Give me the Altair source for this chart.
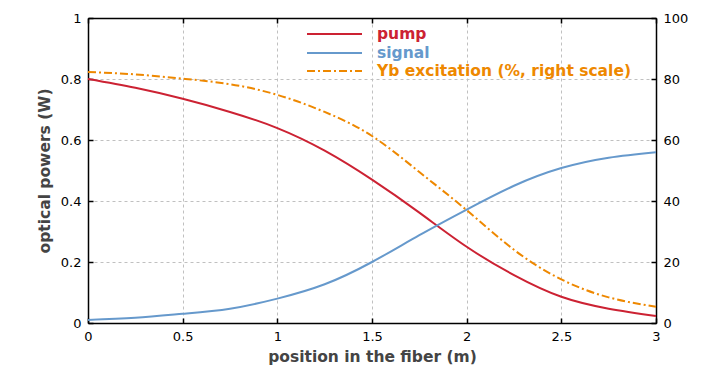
import altair as alt
import pandas as pd

# ---- data ----
position = [0, 0.25, 0.5, 0.75, 1.0, 1.25, 1.5, 1.75, 2.0, 2.25, 2.5, 2.75, 3.0]
pump = [0.800, 0.771, 0.735, 0.692, 0.639, 0.565, 0.470, 0.362, 0.250, 0.157, 0.086, 0.047, 0.023]
signal = [0.010, 0.017, 0.030, 0.047, 0.080, 0.127, 0.200, 0.288, 0.372, 0.450, 0.508, 0.542, 0.560]
yb_excitation = [82.3, 81.5, 80.1, 78.3, 74.8, 69.2, 61.3, 49.5, 37.0, 24.0, 14.3, 8.4, 5.3]

x_ticks = [0, 0.5, 1, 1.5, 2, 2.5, 3]
left_ticks = [0, 0.2, 0.4, 0.6, 0.8, 1.0]
right_ticks = [0, 20, 40, 60, 80, 100]

series_names = ["pump", "signal"]
legend_labels = ["pump", "signal", "Yb excitation (%, right scale)"]
legend_colors = ["#cc2233", "#6699cc", "#ee8800"]

# ---- tables ----
powers = pd.DataFrame(
    {"position": position * 2,
     "power": pump + signal,
     "series": ["pump"] * len(position) + ["signal"] * len(position)}
)
yb = pd.DataFrame({"position": position, "yb": yb_excitation})

W, H = 568, 305
TICK = {"expr": "-5"}
label_font = "DejaVu Sans"
title_font = "DejaVu Sans"

left_layer = alt.Chart(powers).mark_line(strokeWidth=2, interpolate="natural").encode(
    x=alt.X("position:Q", scale=alt.Scale(domain=[0, 3], nice=False),
            axis=alt.Axis(values=x_ticks, format="~g", title="position in the fiber (m)",
                          grid=True, tickSize=TICK, labelPadding=12, titlePadding=6,
                          labelFlush=False)),
    y=alt.Y("power:Q", scale=alt.Scale(domain=[0, 1], nice=False),
            axis=alt.Axis(values=left_ticks, format="~g", title="optical powers (W)",
                          grid=True, tickSize=TICK, labelPadding=12, titlePadding=8,
                          labelFlush=False)),
    color=alt.Color("series:N", scale=alt.Scale(domain=series_names, range=legend_colors[:2]),
                    legend=None),
)

right_layer = alt.Chart(yb).mark_line(strokeWidth=2, interpolate="natural",
                                      strokeDash=[8, 3, 2, 3], color=legend_colors[2]).encode(
    x=alt.X("position:Q", scale=alt.Scale(domain=[0, 3], nice=False),
            axis=alt.Axis(orient="top", values=x_ticks, labels=False, title=None,
                          grid=False, tickSize=TICK)),
    y=alt.Y("yb:Q", scale=alt.Scale(domain=[0, 100], nice=False),
            axis=alt.Axis(orient="right", values=right_ticks, format="d", title=None,
                          grid=False, tickSize=TICK, labelPadding=12, labelFlush=False)),
)

# ---- legend (drawn inside the plot area) ----
legend_layers = []
leg_y = [16, 35, 53]
dashes = [[1, 0], [1, 0], [8, 3, 2, 3]]
for lab, col, yy, dash in zip(legend_labels, legend_colors, leg_y, dashes):
    legend_layers.append(
        alt.Chart(pd.DataFrame({"label": [lab]})).mark_rule(
            color=col, strokeWidth=2, strokeDash=dash).encode(
            x=alt.value(219), x2=alt.value(274), y=alt.value(yy))
    )
    legend_layers.append(
        alt.Chart(pd.DataFrame({"label": [lab]})).mark_text(
            align="left", baseline="middle", font=title_font, fontWeight="bold",
            fontSize=15.5, color=col).encode(
            x=alt.value(289), y=alt.value(yy), text="label:N")
    )

chart = alt.layer(left_layer, right_layer, *legend_layers).resolve_scale(
    x="independent", y="independent", color="independent"
).properties(
    width=W, height=H,
    autosize=alt.AutoSizeParams(type="none"),
    padding={"left": 80, "top": 10, "right": 59, "bottom": 50},
    background="white",
).configure_view(
    stroke="black", strokeWidth=1
).configure_axis(
    labelFont=label_font, labelFontSize=13, labelColor="#000000",
    titleFont=title_font, titleFontSize=15.5, titleFontWeight="bold", titleColor="#444444",
    domainColor="#000000", domainWidth=1.5, tickColor="#000000", tickWidth=1.5,
    gridColor="#c0c0c0", gridDash=[3, 3], gridWidth=1,
)

chart.save("out.html", embed_options={"renderer": "svg", "actions": False})
